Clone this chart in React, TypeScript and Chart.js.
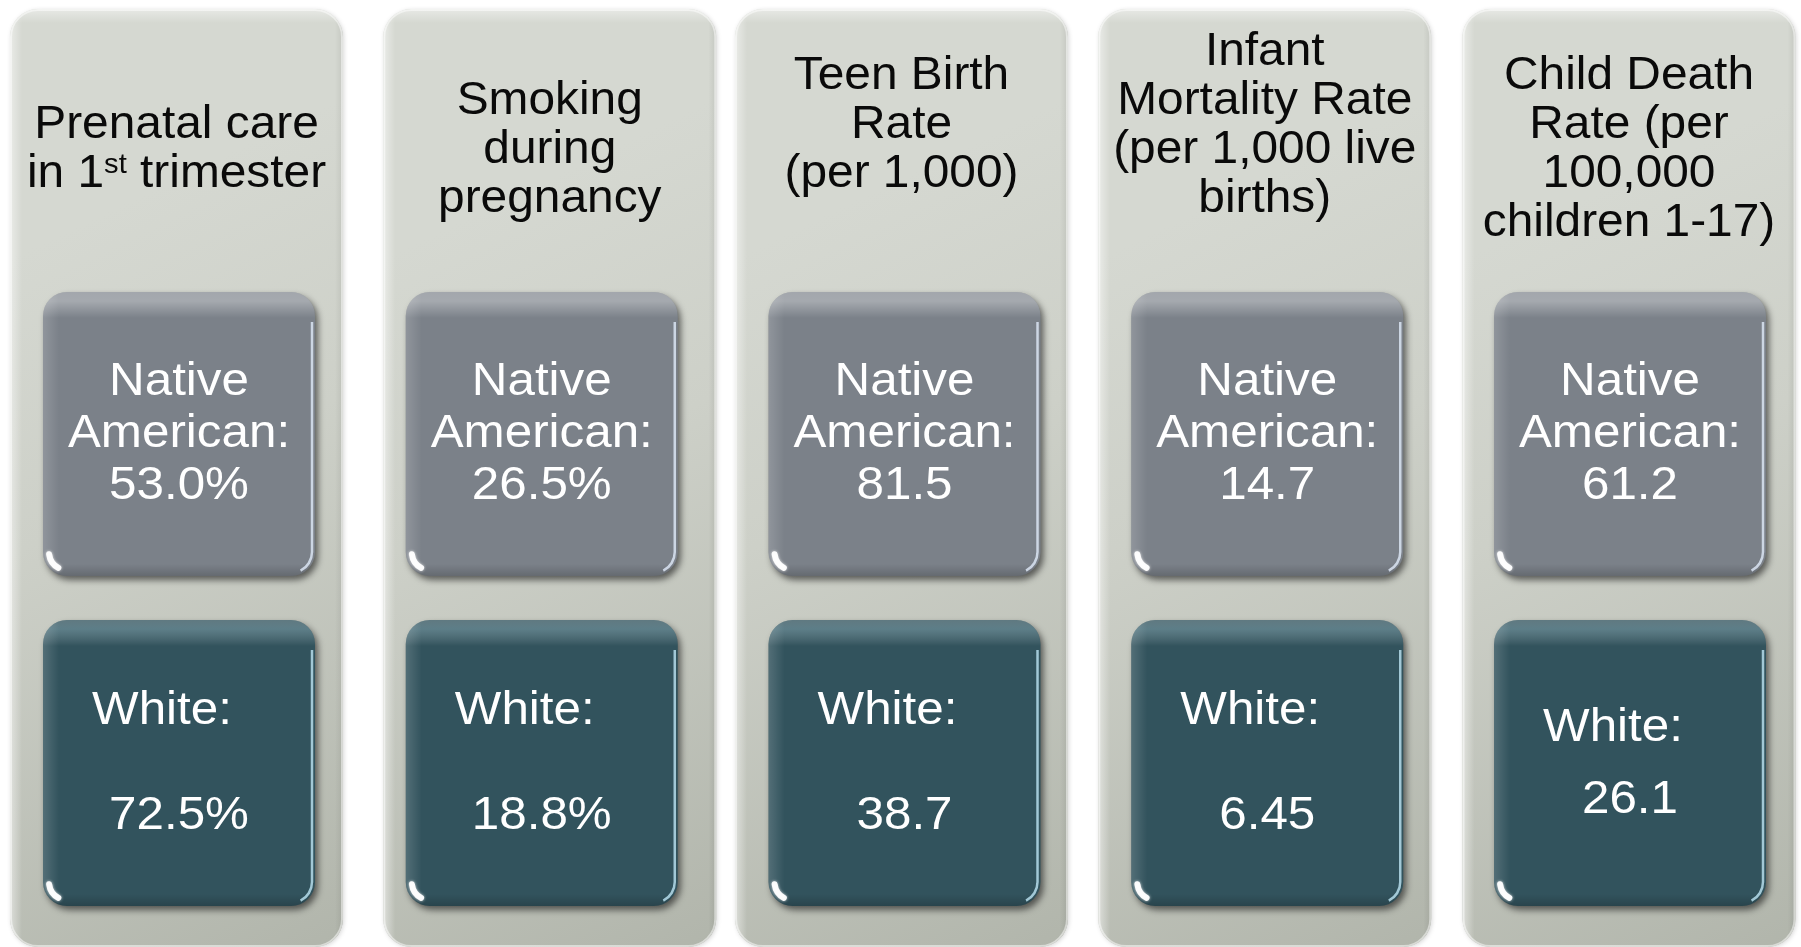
import React, { useEffect, useRef } from "react";
import { Chart, registerables } from "chart.js";

Chart.register(...registerables);

// ---------- DATA ----------
const categories: string[][] = [
  ["Prenatal care", "in 1^st trimester"],
  ["Smoking", "during", "pregnancy"],
  ["Teen Birth", "Rate", "(per 1,000)"],
  ["Infant", "Mortality Rate", "(per 1,000 live", "births)"],
  ["Child Death", "Rate (per", "100,000", "children 1-17)"],
];
const nativeAmerican = [53.0, 26.5, 81.5, 14.7, 61.2];
const white = [72.5, 18.8, 38.7, 6.45, 26.1];
const units = ["%", "%", "", "", ""];
const nativeDecimals = [1, 1, 1, 1, 1];
const whiteDecimals = [1, 1, 1, 2, 1];
const nativeLabel = ["Native", "American:"];
const whiteLabel = "White:";

// ---------- LAYOUT ----------
const W = 1801;
const H = 947;
const X_MIN = -0.4935;
const X_MAX = 4.4714;
const PANEL_W = 333;
const PANEL_TOP = 9;
const PANEL_BOTTOM = 947;
const PANEL_R = 28;
const PANEL_SHIFT = [-2.5, 8, -3, -2.5, -1];
const BOX_W = 272;
const BOX_R = 24;
const NA_TOP = 292;
const NA_BOTTOM = 576;
const WH_TOP = 620;
const WH_BOTTOM = 906;
const HEADER_FIRST_BASELINE = [138, 114, 89, 65, 89];
const HEADER_LINE = 49;
const HEADER_SIZE = 46;
const HEADER_SX = 1.04;
const BOX_SIZE = 47;
const BOX_SX = 1.05;
const NA_FIRST_BASELINE = 395;
const NA_LINE = 52;
const WHITE_MID = 776.5;
const WHITE_GAP = [105, 105, 105, 105, 72];
const WHITE_LABEL_SHIFT = -17;
const FONT = '"Liberation Sans", Arial, Helvetica, sans-serif';

function rr(ctx: CanvasRenderingContext2D, x: number, y: number, w: number, h: number, r: number) {
  ctx.beginPath();
  ctx.moveTo(x + r, y);
  ctx.lineTo(x + w - r, y);
  ctx.arcTo(x + w, y, x + w, y + r, r);
  ctx.lineTo(x + w, y + h - r);
  ctx.arcTo(x + w, y + h, x + w - r, y + h, r);
  ctx.lineTo(x + r, y + h);
  ctx.arcTo(x, y + h, x, y + h - r, r);
  ctx.lineTo(x, y + r);
  ctx.arcTo(x, y, x + r, y, r);
  ctx.closePath();
}

function drawText(
  ctx: CanvasRenderingContext2D,
  text: string,
  cx: number,
  baseline: number,
  size: number,
  sx: number,
  color: string
) {
  const segs: { t: string; sup: boolean }[] = [];
  const m = text.match(/^(.*?)\^(\S+)(.*)$/);
  if (m) {
    segs.push({ t: m[1], sup: false });
    segs.push({ t: m[2], sup: true });
    segs.push({ t: m[3], sup: false });
  } else segs.push({ t: text, sup: false });
  const supSize = Math.round(size * 0.6);
  let total = 0;
  const widths = segs.map((s) => {
    ctx.font = `${s.sup ? supSize : size}px ${FONT}`;
    const w = ctx.measureText(s.t).width;
    total += w;
    return w;
  });
  ctx.save();
  ctx.translate(cx, baseline);
  ctx.scale(sx, 1);
  ctx.fillStyle = color;
  ctx.textAlign = "left";
  ctx.textBaseline = "alphabetic";
  let x = -total / 2;
  segs.forEach((s, i) => {
    ctx.font = `${s.sup ? supSize : size}px ${FONT}`;
    ctx.fillText(s.t, x, s.sup ? -Math.round(size * 0.3) : 0);
    x += widths[i];
  });
  ctx.restore();
}

function drawPanel(ctx: CanvasRenderingContext2D, cx: number) {
  const x = cx - PANEL_W / 2;
  const y = PANEL_TOP;
  const h = PANEL_BOTTOM - PANEL_TOP;
  ctx.save();
  ctx.shadowColor = "rgba(0,0,0,0.15)";
  ctx.shadowBlur = 4;
  ctx.shadowOffsetX = 1;
  ctx.shadowOffsetY = 1;
  rr(ctx, x, y, PANEL_W, h, PANEL_R);
  const g = ctx.createLinearGradient(x, y + 250, x + PANEL_W, y + h);
  g.addColorStop(0, "#D5D8D1");
  g.addColorStop(0.35, "#CDD0C8");
  g.addColorStop(1, "#B1B5AB");
  ctx.fillStyle = g;
  ctx.fill();
  ctx.restore();
  ctx.save();
  rr(ctx, x, y, PANEL_W, h, PANEL_R);
  ctx.clip();
  const gl = ctx.createLinearGradient(x, 0, x + 12, 0);
  gl.addColorStop(0, "rgba(255,255,255,0.5)");
  gl.addColorStop(1, "rgba(255,255,255,0)");
  ctx.fillStyle = gl;
  ctx.fillRect(x, y, 12, h);
  const gt = ctx.createLinearGradient(0, y, 0, y + 14);
  gt.addColorStop(0, "rgba(255,255,255,0.45)");
  gt.addColorStop(1, "rgba(255,255,255,0)");
  ctx.fillStyle = gt;
  ctx.fillRect(x, y, PANEL_W, 14);
  const gr = ctx.createLinearGradient(x + PANEL_W - 8, 0, x + PANEL_W, 0);
  gr.addColorStop(0, "rgba(0,0,0,0)");
  gr.addColorStop(1, "rgba(0,0,0,0.08)");
  ctx.fillStyle = gr;
  ctx.fillRect(x + PANEL_W - 8, y, 8, h);
  ctx.lineWidth = 2;
  ctx.strokeStyle = "rgba(255,255,255,0.5)";
  rr(ctx, x + 1, y + 1, PANEL_W - 2, h - 2, PANEL_R - 1);
  ctx.stroke();
  ctx.restore();
}

function drawBox(ctx: CanvasRenderingContext2D, cx: number, top: number, bottom: number, color: string, dark: boolean) {
  const x = cx - BOX_W / 2;
  const y = top;
  const h = bottom - top;
  const w = BOX_W;
  ctx.save();
  ctx.shadowColor = "rgba(20,20,20,0.6)";
  ctx.shadowBlur = 6;
  ctx.shadowOffsetX = 3;
  ctx.shadowOffsetY = 4;
  rr(ctx, x, y, w, h, BOX_R);
  ctx.fillStyle = color;
  ctx.fill();
  ctx.restore();

  ctx.save();
  rr(ctx, x, y, w, h, BOX_R);
  ctx.clip();
  // top gloss band
  const gt = ctx.createLinearGradient(0, y, 0, y + 26);
  gt.addColorStop(0, dark ? "rgba(255,255,255,0.22)" : "rgba(255,255,255,0.3)");
  gt.addColorStop(0.35, dark ? "rgba(190,225,235,0.3)" : "rgba(255,255,255,0.32)");
  gt.addColorStop(1, "rgba(255,255,255,0)");
  ctx.fillStyle = gt;
  ctx.fillRect(x, y, w, 26);
  // left soft band
  const gl = ctx.createLinearGradient(x, 0, x + 16, 0);
  gl.addColorStop(0, "rgba(255,255,255,0.16)");
  gl.addColorStop(1, "rgba(255,255,255,0)");
  ctx.fillStyle = gl;
  ctx.fillRect(x, y, 16, h);
  // bottom darker edge
  const gb = ctx.createLinearGradient(0, y + h - 12, 0, y + h);
  gb.addColorStop(0, "rgba(0,0,0,0)");
  gb.addColorStop(1, "rgba(0,0,0,0.18)");
  ctx.fillStyle = gb;
  ctx.fillRect(x, y + h - 12, w, 12);
  // right edge highlight wrapping bottom-right corner
  ctx.strokeStyle = dark ? "rgba(190,230,245,0.8)" : "rgba(225,235,250,0.8)";
  ctx.lineWidth = 2.5;
  ctx.beginPath();
  ctx.moveTo(x + w - 3, y + 30);
  ctx.lineTo(x + w - 3, y + h - BOX_R);
  ctx.arc(x + w - BOX_R, y + h - BOX_R, BOX_R - 3, 0, Math.PI * 0.35);
  ctx.stroke();
  // bottom-left glint
  ctx.save();
  ctx.shadowColor = "rgba(255,255,255,0.8)";
  ctx.shadowBlur = 3;
  ctx.strokeStyle = "rgba(255,255,255,0.95)";
  ctx.lineWidth = 6;
  ctx.lineCap = "round";
  ctx.beginPath();
  ctx.arc(x + BOX_R, y + h - BOX_R, BOX_R - 6, Math.PI * 0.66, Math.PI * 0.96);
  ctx.stroke();
  ctx.restore();
  ctx.restore();
}

const infographic = {
  id: "infographic",
  afterDraw(chart: any) {
    const ctx: CanvasRenderingContext2D = chart.ctx;
    const xs = chart.scales.x;
    const na = chart.data.datasets[0].data as { x: number; y: number }[];
    const wh = chart.data.datasets[1].data as { x: number; y: number }[];
    ctx.save();
    categories.forEach((lines, i) => {
      const cx = xs.getPixelForValue(i);
      const pcx = cx + PANEL_SHIFT[i];
      drawPanel(ctx, pcx);
      lines.forEach((ln, j) => {
        drawText(ctx, ln, pcx, HEADER_FIRST_BASELINE[i] + j * HEADER_LINE, HEADER_SIZE, HEADER_SX, "#0a0a0a");
      });
      drawBox(ctx, cx, NA_TOP, NA_BOTTOM, "#7B8189", false);
      drawBox(ctx, cx, WH_TOP, WH_BOTTOM, "#32535D", true);
      const naText = na[i].y.toFixed(nativeDecimals[i]) + units[i];
      const whText = wh[i].y.toFixed(whiteDecimals[i]) + units[i];
      const naLines = [...nativeLabel, naText];
      naLines.forEach((t, j) => {
        drawText(ctx, t, cx, NA_FIRST_BASELINE + j * NA_LINE, BOX_SIZE, BOX_SX, "#ffffff");
      });
      drawText(ctx, whiteLabel, cx + WHITE_LABEL_SHIFT, WHITE_MID - WHITE_GAP[i] / 2, BOX_SIZE, BOX_SX, "#ffffff");
      drawText(ctx, whText, cx, WHITE_MID + WHITE_GAP[i] / 2, BOX_SIZE, BOX_SX, "#ffffff");
    });
    ctx.restore();
  },
};

export default function App() {
  const ref = useRef<HTMLCanvasElement | null>(null);
  useEffect(() => {
    document.body.style.margin = "0";
    document.body.style.background = "#ffffff";
    const canvas = ref.current;
    if (!canvas) return;
    const chart = new Chart(canvas, {
      type: "bar",
      data: {
        labels: categories.map((l) => l.join(" ").replace("^", "")),
        datasets: [
          {
            label: "Native American",
            data: nativeAmerican.map((v, i) => ({ x: i, y: v })),
            backgroundColor: "rgba(0,0,0,0)",
            borderWidth: 0,
          },
          {
            label: "White",
            data: white.map((v, i) => ({ x: i, y: v })),
            backgroundColor: "rgba(0,0,0,0)",
            borderWidth: 0,
          },
        ],
      } as any,
      options: {
        animation: false,
        responsive: false,
        devicePixelRatio: 1,
        events: [],
        layout: { padding: 0 },
        plugins: { legend: { display: false }, tooltip: { enabled: false }, title: { display: false } },
        scales: {
          x: { type: "linear", min: X_MIN, max: X_MAX, offset: false, bounds: "ticks", display: false },
          y: { min: 0, max: 100, display: false },
        },
      } as any,
      plugins: [infographic],
    });
    return () => chart.destroy();
  }, []);
  return (
    <div style={{ width: W, height: H, position: "relative", background: "#fff" }}>
      <canvas ref={ref} width={W} height={H} style={{ display: "block", width: W, height: H }} />
    </div>
  );
}
